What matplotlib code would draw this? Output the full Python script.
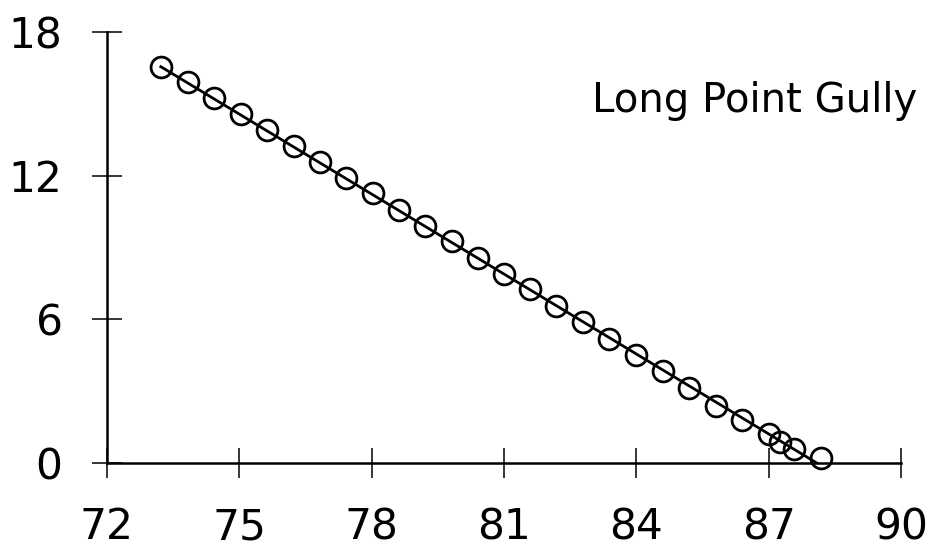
import numpy as np
import matplotlib.pyplot as plt

# readings
dist = [73.22, 73.83, 74.43, 75.03, 75.63, 76.23, 76.83, 77.42, 78.02,
        78.62, 79.22, 79.81, 80.41, 80.99, 81.59, 82.18, 82.79, 83.39,
        84.00, 84.60, 85.20, 85.81, 86.40, 87.00, 87.26, 87.58, 88.19]
depth = [16.57, 15.92, 15.25, 14.58, 13.92, 13.26, 12.58, 11.92, 11.27,
         10.57, 9.92, 9.28, 8.59, 7.92, 7.26, 6.56, 5.89, 5.19,
         4.52, 3.84, 3.15, 2.38, 1.79, 1.23, 0.88, 0.57, 0.21]

fit_x = [73.22, 88.09]
fit_y = [16.57, 0.0]

xticks = [72, 75, 78, 81, 84, 87, 90]
yticks = [0, 6, 12, 18]

plt.rcParams['font.family'] = ['DejaVu Sans']

fig = plt.figure(figsize=(9.41, 5.47), dpi=100)
ax = fig.add_axes([0.1137, 0.1536, 0.9575 - 0.1137, 0.9406 - 0.1536])

ax.plot(fit_x, fit_y, color='black', lw=2.0, zorder=2)
ax.plot(dist, depth, linestyle='none', marker='o', ms=15.0,
        mfc='none', mec='black', mew=2.0, zorder=3, clip_on=False)

ax.set_xlim(72, 90)
ax.set_ylim(0, 18)
ax.set_xticks(xticks)
ax.set_yticks(yticks)

for s in ['top', 'right']:
    ax.spines[s].set_visible(False)
for s in ['left', 'bottom']:
    ax.spines[s].set_linewidth(1.8)

ax.tick_params(direction='inout', length=22, width=1.1, labelsize=30.5,
               colors='black')
ax.tick_params(axis='y', pad=21)
ax.tick_params(axis='x', pad=20)

fig.text(0.9745, 0.7958, 'Long Point Gully', fontsize=29, ha='right',
         va='baseline', color='black')

fig.savefig('out.png', dpi=100)
